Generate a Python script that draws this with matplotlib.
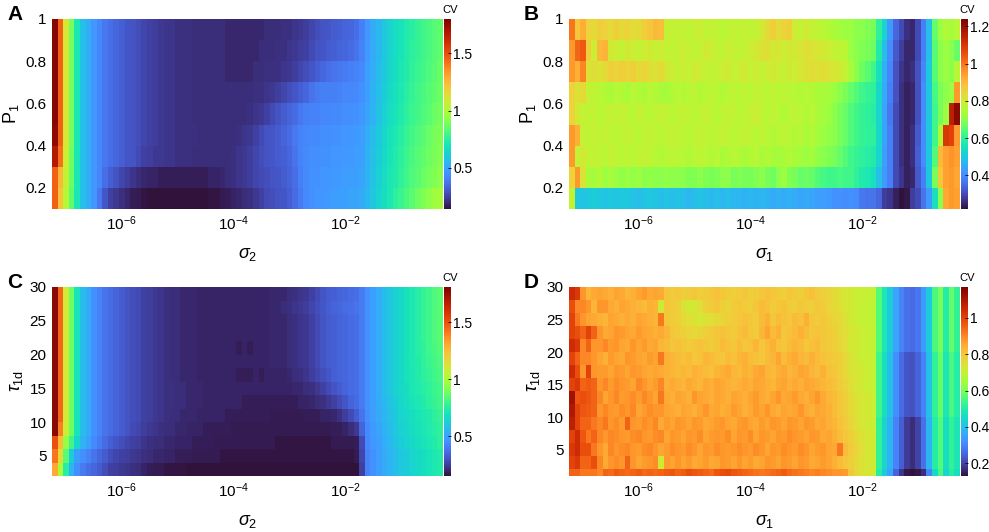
import matplotlib
matplotlib.use("Agg")
import matplotlib.pyplot as plt
import numpy as np

plt.rcParams['font.family'] = ['Liberation Sans', 'DejaVu Sans']
plt.rcParams['mathtext.fontset'] = 'custom'
plt.rcParams['mathtext.rm'] = 'Liberation Sans'
plt.rcParams['mathtext.it'] = 'Liberation Sans:italic'
plt.rcParams['axes.unicode_minus'] = False

# sigma grid: 70 log-spaced cells, 0.1 decade each
sigma_edges = np.logspace(-7.25, -0.25, 71)
# P1 rows 0.1 .. 1.0, tau_1d rows
p1_edges = np.linspace(0.1, 1.0, 10)
tau_edges_c = np.arange(2, 31, 2)
tau_edges_d = np.concatenate([[1], np.arange(2, 31, 2)])

# CV values x100, rows from bottom to top
# panel A: CV vs sigma_2 and P1
cv_a = np.array([
    [145,122,102,85,70,57,52,46,38,30, 25,23,21,19,17,16,15,14,14,14, 14,14,14,14,14,14,14,14,15,15, 16,17,18,19,20,21,23,25,27,28, 29,30,32,35,39,43,45,46,46,47, 48,49,49,50,50,51,55,59,63,67, 71,75,78,81,84,87,90,93,96,98],
    [145,125,105,86,70,57,52,46,42,36, 32,29,26,24,22,20,19,18,18,17, 17,17,17,17,17,17,17,17,18,18, 19,20,21,22,23,24,26,27,28,29, 30,31,33,36,40,43,45,45,46,46, 47,47,48,48,49,50,54,58,62,66, 70,73,76,79,82,84,86,88,90,92],
    [168,142,108,87,70,57,52,46,42,38, 36,34,32,30,29,27,25,24,23,23, 22,22,21,21,21,20,20,20,20,20, 20,20,21,22,23,24,26,28,29,30, 31,32,34,37,41,43,44,44,45,45, 46,46,47,47,48,49,53,57,61,65, 69,72,75,78,81,83,85,87,89,91],
    [176,145,110,88,70,57,52,46,42,38, 36,34,32,30,29,28,26,25,24,23, 22,22,21,21,21,21,20,20,20,20, 20,20,20,21,22,23,25,27,29,30, 31,33,35,38,41,42,43,43,44,44, 45,45,46,46,47,48,52,56,60,64, 68,71,74,77,80,82,84,86,88,90],
    [178,145,110,88,70,57,52,46,42,38, 36,34,32,30,29,28,26,25,24,23, 22,22,21,21,21,20,20,20,20,20, 20,20,20,20,20,21,22,23,25,27, 29,31,33,35,38,40,41,41,42,42, 43,43,44,44,45,46,50,54,58,62, 66,69,72,75,78,80,82,84,86,88],
    [178,145,110,88,70,57,52,46,42,38, 36,34,32,30,29,28,26,25,24,23, 22,22,21,21,21,20,20,20,20,20, 20,20,20,20,20,20,21,21,22,23, 24,26,28,30,32,34,37,39,40,40, 40,41,42,42,43,45,49,53,57,61, 65,68,71,74,77,79,81,83,85,87],
    [178,145,110,88,70,57,52,46,42,38, 36,34,32,30,29,28,26,25,24,23, 22,22,21,21,21,20,20,20,20,20, 20,19,19,19,19,19,20,20,21,21, 21,22,23,24,26,28,30,32,34,36, 37,38,39,40,41,43,48,52,56,60, 64,67,70,73,76,78,80,82,84,86],
    [178,145,110,88,70,57,52,46,42,38, 36,34,32,30,29,28,26,25,24,23, 22,22,21,21,21,20,20,20,20,20, 20,19,19,19,19,19,19,20,20,20, 21,21,22,23,24,25,27,29,30,31, 32,33,34,35,37,41,47,51,55,59, 63,66,69,72,75,77,79,81,83,85],
    [178,145,110,88,70,57,52,46,42,38, 36,34,32,30,29,28,26,25,24,23, 22,22,21,21,21,20,20,20,20,20, 20,19,19,19,19,19,19,19,20,20, 20,21,21,22,23,24,26,28,29,30, 31,32,33,34,36,40,46,51,55,59, 63,66,69,72,74,77,79,81,83,85],
]) / 100

# panel B: CV vs sigma_1 and P1
cv_b = np.array([
    [78,50,49,50,51,50,49,50,49,50, 50,49,48,49,50,49,48,49,48,49, 48,47,48,49,48,47,48,47,48,47, 47,46,47,46,47,46,45,46,45,46, 45,44,45,44,43,43,42,41,41,40, 41,40,37,36,36,34,28,27,24,22, 23,28,30,36,42,55,70,93,95,94],
    [85,95,82,74,73,75,72,73,72,71, 72,71,72,70,71,70,70,71,70,70, 70,69,69,70,69,68,69,70,70,68, 69,68,68,69,70,68,67,70,72,69, 68,66,67,66,64,63,62,62,63,62, 62,60,58,57,55,48,42,38,30,27, 24,25,32,38,50,68,88,94,95,93],
    [95,78,80,77,78,77,76,78,77,76, 77,76,77,78,77,76,75,76,77,76, 76,75,76,77,76,75,76,74,75,76, 75,74,75,76,74,75,74,73,74,75, 74,73,72,73,71,70,69,68,66,64, 62,61,60,59,58,52,43,38,30,26, 24,26,33,40,50,64,90,94,96,94],
    [95,92,78,77,78,77,78,77,76,77, 78,77,76,77,78,77,76,77,78,77, 77,76,77,78,77,76,77,78,77,76, 77,78,77,76,77,76,75,76,77,76, 75,76,74,75,73,72,71,70,68,66, 64,62,61,60,60,53,44,38,30,26, 24,26,32,40,50,62,75,110,108,95],
    [85,80,78,77,78,76,77,78,77,78, 77,76,78,77,76,77,78,77,76,77, 78,77,76,77,78,77,76,77,78,77, 76,77,78,79,77,76,77,76,75,76, 77,76,75,76,74,73,72,70,68,66, 64,62,61,60,59,52,44,37,30,26, 24,25,31,40,50,62,68,72,115,122],
    [85,82,84,78,77,76,75,74,76,75, 74,76,75,74,76,75,74,73,75,76, 75,76,77,75,76,77,76,75,76,77, 76,77,76,78,77,76,77,76,77,76, 76,75,76,75,74,74,73,72,70,68, 66,64,62,61,60,53,45,38,31,26, 24,25,31,40,50,63,68,70,72,95],
    [95,92,98,82,83,82,84,86,85,86, 85,86,84,85,83,82,84,80,79,78, 79,78,80,79,78,77,78,79,80,78, 79,80,78,79,78,79,80,79,78,80, 79,81,82,83,82,83,82,81,80,78, 74,70,67,65,62,55,46,39,31,27, 25,26,31,39,50,65,70,72,70,76],
    [95,102,104,86,79,90,91,80,79,78, 80,79,78,79,80,78,79,78,77,78, 79,78,77,78,80,79,78,77,79,78, 77,78,79,80,82,83,80,81,79,80, 80,81,83,82,81,80,79,78,77,76, 72,70,69,68,67,58,48,40,32,28, 25,25,30,38,48,65,70,72,70,66],
    [100,88,92,85,84,86,85,84,86,84, 85,83,84,86,88,90,89,78,78,78, 78,77,78,79,77,78,77,76,77,78, 77,78,77,78,80,84,86,83,85,86, 79,78,80,78,77,76,75,74,73,72, 72,70,70,69,68,60,52,42,34,30, 26,25,30,38,48,66,72,75,73,76],
]) / 100

# panel C: CV vs sigma_2 and tau_1d
cv_c = np.array([
    [130,100,75,55,45,40,37,35,32,29, 26,25,24,23,22,21,19,18,17,17, 16,16,16,16,15,15,15,15,15,15, 15,15,15,15,15,15,15,15,15,15, 15,15,15,15,15,15,15,15,15,15, 15,15,15,15,15,26,42,46,49,52, 55,57,60,62,64,66,68,70,72,74],
    [142,115,85,62,50,45,42,38,35,32, 29,27,26,25,24,23,22,21,20,20, 19,19,18,18,18,17,17,17,17,17, 16,16,16,16,16,16,16,16,16,16, 16,16,16,16,16,16,16,16,16,16, 16,16,16,16,17,27,42,46,49,52, 55,57,60,62,64,66,68,70,72,74],
    [150,125,95,80,65,55,50,44,40,36, 33,31,29,27,26,25,23,22,21,21, 20,20,19,19,19,18,18,18,18,17, 17,17,17,17,17,17,17,17,17,17, 16,16,16,16,16,16,16,16,16,16, 17,17,17,17,18,28,43,47,50,53, 56,59,62,64,66,68,70,72,74,76],
    [178,140,108,88,70,57,52,46,42,38, 36,34,32,30,28,27,25,24,23,22, 21,21,20,20,19,19,19,18,18,18, 18,18,17,17,17,17,17,17,17,17, 17,17,17,17,17,17,17,17,17,17, 18,18,19,21,24,34,44,48,51,54, 57,60,63,65,67,69,71,73,75,77],
    [178,145,110,88,70,57,52,46,42,38, 36,34,32,30,29,28,26,25,24,23, 22,21,21,20,20,20,19,19,19,19, 19,18,18,18,18,18,18,18,18,17, 17,17,17,17,17,18,18,18,19,19, 20,22,25,28,32,38,45,49,52,55, 58,61,64,66,68,70,72,74,76,78],
    [178,145,110,88,70,57,52,46,42,38, 36,34,32,30,29,28,26,25,24,23, 22,22,21,21,20,20,20,19,19,19, 19,19,19,19,18,18,18,18,18,18, 18,18,18,18,19,19,20,21,22,24, 26,28,31,34,36,40,46,50,53,56, 59,62,65,67,70,72,74,76,78,80],
    [178,145,110,88,70,57,52,46,42,38, 36,34,32,30,29,28,26,25,24,23, 22,22,21,21,20,20,20,19,19,19, 19,19,19,19,19,19,19,19,19,19, 19,19,19,20,20,21,22,24,26,28, 30,32,34,36,37,40,46,50,53,57, 60,63,66,68,71,73,75,77,79,81],
    [178,145,110,88,70,57,52,46,42,38, 36,34,32,30,29,28,26,25,24,23, 22,21,21,20,20,20,19,19,19,19, 19,19,19,18,18,18,19,18,19,19, 19,19,20,21,22,23,25,27,29,31, 33,34,35,36,37,40,46,50,53,57, 60,63,66,69,71,74,76,78,80,82],
    [178,145,110,88,70,57,52,46,42,38, 36,34,32,30,29,28,26,25,24,23, 22,21,21,20,20,20,19,19,19,19, 19,19,19,19,19,19,19,19,19,20, 20,20,21,22,23,24,26,28,30,32, 33,34,35,36,37,40,46,50,53,57, 60,63,66,69,72,74,77,79,81,83],
    [178,145,110,88,70,57,52,46,42,38, 36,34,32,30,29,28,26,25,24,23, 22,21,21,20,20,20,19,19,19,19, 19,19,19,18,19,18,19,19,19,20, 20,20,21,22,23,24,26,28,30,32, 33,34,35,36,37,40,46,50,53,57, 60,63,66,69,72,75,77,80,82,84],
    [178,145,110,88,70,57,52,46,42,38, 36,34,32,30,29,28,26,25,24,23, 22,21,21,20,20,20,19,19,19,19, 19,19,19,19,19,19,19,19,19,20, 20,20,21,22,23,24,26,28,30,32, 33,34,35,36,37,40,46,50,53,57, 60,63,66,69,72,75,78,80,83,85],
    [178,145,110,88,70,57,52,46,42,38, 36,34,32,30,29,28,26,25,24,23, 22,21,21,20,20,20,19,19,19,19, 19,19,19,19,19,19,19,19,19,20, 20,20,21,22,23,24,26,28,30,32, 33,34,35,36,37,40,46,50,53,57, 60,63,66,69,72,75,78,80,83,85],
    [178,145,110,88,70,57,52,46,42,38, 36,34,32,30,29,28,26,25,24,23, 22,21,21,20,20,20,19,19,19,19, 19,19,19,19,19,19,19,19,19,20, 20,21,22,23,24,25,27,29,31,33, 34,35,36,37,38,40,46,50,53,57, 60,63,66,69,72,75,78,80,83,85],
    [178,145,110,88,70,57,52,46,42,38, 36,34,32,30,29,28,26,25,24,23, 22,21,21,20,20,20,19,19,19,19, 19,19,19,19,19,19,19,19,19,20, 20,20,21,22,23,24,26,28,30,32, 33,34,35,36,37,40,46,50,53,57, 60,63,66,69,72,75,78,80,83,85],
]) / 100

# panel D: CV vs sigma_1 and tau_1d
cv_d = np.array([
    [95,95,92,92,92,90,95,94,96,95, 94,95,96,94,95,94,95,96,97,95, 96,98,97,96,95,94,97,98,99,97, 96,95,94,93,92,93,94,95,96,94, 93,92,91,90,91,90,89,88,88,87, 80,76,74,73,72,50,42,35,25,18, 14,13,14,17,30,45,55,44,50,46],
    [100,102,95,95,98,90,85,88,89,88, 95,88,86,87,88,89,72,87,86,88, 86,87,85,86,87,85,86,88,87,86, 88,86,87,85,86,88,87,86,88,87, 86,88,87,85,86,87,86,84,82,80, 78,76,74,73,72,52,44,38,30,24, 19,17,20,27,38,50,56,46,52,48],
    [102,105,98,98,92,88,85,90,88,89, 90,88,87,89,90,88,86,87,89,88, 87,89,88,86,88,87,89,88,87,88, 89,88,87,89,88,86,88,87,89,88, 87,89,88,86,87,88,86,85,92,82, 79,77,75,73,72,52,44,38,30,24, 19,17,20,27,38,50,56,46,52,48],
    [100,105,97,92,95,90,88,90,89,88, 87,89,90,88,87,89,90,86,88,87, 86,88,87,89,86,87,88,87,89,86, 88,87,89,86,88,87,86,88,87,89, 88,87,86,88,87,85,86,84,82,80, 78,76,74,73,72,52,44,38,30,24, 19,17,20,27,38,50,56,46,52,48],
    [108,100,95,95,92,90,92,88,89,87, 95,88,87,89,88,90,85,87,86,88, 87,86,88,87,85,86,87,88,86,85, 87,88,86,85,87,86,88,87,86,88, 87,86,88,87,85,86,84,83,81,79, 77,75,73,72,71,52,44,38,30,24, 19,17,20,27,38,50,56,46,52,48],
    [110,100,97,96,95,88,90,88,87,89, 88,90,86,87,89,88,88,86,85,84, 86,85,84,86,88,85,86,84,85,87, 86,84,85,87,86,88,85,84,86,85, 86,88,85,84,86,85,84,82,80,78, 76,74,73,72,71,54,46,40,32,26, 23,22,25,30,40,52,58,48,55,50],
    [112,97,98,97,95,90,86,88,90,87, 88,89,87,90,88,86,92,85,84,86, 85,84,88,86,85,84,86,85,84,86, 85,84,86,87,85,84,86,88,85,86, 87,85,84,86,88,85,83,82,80,78, 76,74,73,72,71,54,46,40,32,26, 23,22,25,30,40,52,58,48,55,50],
    [100,102,95,96,95,88,90,87,89,88, 87,86,90,88,86,87,90,84,85,84, 83,85,84,83,85,84,86,85,84,83, 84,85,84,86,85,84,83,85,86,84, 85,84,86,85,84,83,82,81,79,77, 75,73,72,71,70,54,46,40,32,26, 23,22,25,30,40,52,58,48,55,50],
    [105,98,88,100,88,87,87,86,88,87, 86,88,87,86,85,86,85,84,83,82, 83,82,84,83,82,81,83,84,85,83, 82,84,83,85,86,83,82,84,85,83, 84,86,85,83,82,84,81,80,78,76, 74,73,72,71,70,54,46,40,32,26, 23,22,25,30,40,52,58,48,55,50],
    [100,95,90,90,88,86,84,87,86,85, 88,87,86,85,87,86,92,84,83,82, 81,82,80,81,83,82,81,80,82,81, 83,84,82,81,80,82,83,86,82,84, 85,83,82,84,82,81,80,79,78,76, 74,72,71,71,70,54,46,40,32,26, 23,22,25,30,40,52,58,48,55,50],
    [105,102,90,95,88,88,90,87,88,86, 85,88,86,87,85,86,83,82,80,81, 80,79,80,81,80,79,80,82,81,80, 82,80,81,83,80,82,84,81,80,82, 83,82,80,81,82,80,79,78,77,75, 73,72,71,70,70,56,48,42,35,30, 27,26,28,34,42,55,60,50,58,52],
    [100,98,95,100,95,88,85,86,88,87, 86,85,87,86,85,84,85,83,80,79, 78,77,76,77,78,79,80,81,80,79, 81,82,80,79,83,86,82,84,80,81, 82,84,82,80,81,80,79,78,76,75, 73,72,71,70,70,56,48,42,35,30, 27,26,28,34,42,55,60,50,58,52],
    [100,92,88,86,85,84,83,86,85,84, 85,84,86,85,84,83,92,80,79,78, 76,75,74,73,74,75,76,77,78,79, 80,81,80,79,82,84,80,82,81,80, 82,81,84,80,79,80,78,77,76,74, 72,71,70,70,69,56,48,42,35,30, 27,26,28,34,42,55,60,50,58,52],
    [98,90,90,88,83,88,88,85,84,86, 85,84,83,82,84,83,72,80,79,78, 74,72,73,75,78,79,80,78,77,79, 80,79,78,80,82,81,79,80,81,79, 78,80,79,78,80,79,77,76,75,73, 72,71,70,70,69,56,48,42,35,30, 27,26,28,34,42,55,60,50,58,52],
    [105,102,88,83,85,86,85,84,86,85, 83,84,86,87,85,86,85,80,79,80, 78,79,80,78,79,80,81,80,79,78, 79,80,78,79,80,81,80,79,78,80, 79,78,80,81,79,78,77,76,74,73, 72,71,71,70,70,56,48,42,35,30, 27,26,28,34,42,55,60,50,58,52],
]) / 100

p1_ticks = [0.2, 0.4, 0.6, 0.8, 1.0]
p1_ticklabels = ['0.2', '0.4', '0.6', '0.8', '1']
tau_ticks = [5, 10, 15, 20, 25, 30]
sigma_ticks = [1e-6, 1e-4, 1e-2]

panels = [
    # letter, data, y edges, vmin, vmax, cbar ticks, xlabel, ylabel, yticks, yticklabels
    ('A', cv_a, p1_edges, 0.14, 1.80, [0.5, 1, 1.5], r'$\sigma_2$', r'P$_1$', p1_ticks, p1_ticklabels),
    ('B', cv_b, p1_edges, 0.22, 1.24, [0.4, 0.6, 0.8, 1, 1.2], r'$\sigma_1$', r'P$_1$', p1_ticks, p1_ticklabels),
    ('C', cv_c, tau_edges_c, 0.15, 1.81, [0.5, 1, 1.5], r'$\sigma_2$', r'$\tau_{\mathrm{1d}}$', tau_ticks, [str(t) for t in tau_ticks]),
    ('D', cv_d, tau_edges_d, 0.13, 1.17, [0.2, 0.4, 0.6, 0.8, 1], r'$\sigma_1$', r'$\tau_{\mathrm{1d}}$', tau_ticks, [str(t) for t in tau_ticks]),
]

W, H = 989, 532
fig = plt.figure(figsize=(W / 100, H / 100), dpi=100)

# axes boxes in pixels: left, top, right, bottom
boxes = [(52, 19, 443, 209), (569, 19, 960, 209), (52, 287, 443, 476), (569, 287, 960, 476)]

for (letter, z, yedges, vmin, vmax, cticks, xl, yl, yt, ytl), (l, t, r, b) in zip(panels, boxes):
    ax = fig.add_axes([l / W, 1 - b / H, (r - l) / W, (b - t) / H])
    mesh = ax.pcolormesh(sigma_edges, yedges, z, cmap='turbo', vmin=vmin, vmax=vmax, shading='flat')
    ax.set_xscale('log')
    ax.set_xlim(sigma_edges[0], sigma_edges[-1])
    ax.set_ylim(yedges[0], yedges[-1])
    ax.set_xticks(sigma_ticks)
    ax.xaxis.set_minor_locator(matplotlib.ticker.NullLocator())
    ax.set_yticks(yt)
    ax.set_yticklabels(ytl)
    ax.tick_params(length=0, labelsize=11, pad=4)
    for s in ax.spines.values():
        s.set_visible(False)
    ax.set_xlabel(xl, fontsize=13, labelpad=9)
    ax.set_ylabel(yl, fontsize=13, labelpad=3)
    fig.text((l - 45) / W, 1 - (t - 14) / H, letter, fontsize=15, fontweight='bold', va='top', ha='left')

    cax = fig.add_axes([(r + 1) / W, 1 - b / H, 7 / W, (b - t) / H])
    cb = fig.colorbar(mesh, cax=cax, ticks=cticks)
    cb.ax.set_yticklabels(['%g' % c for c in cticks])
    cb.outline.set_visible(False)
    cb.ax.tick_params(labelsize=10, length=2, direction='in', width=0.6, pad=1.5)
    cb.ax.text(0.9, 1.02, 'CV', transform=cb.ax.transAxes, ha='center', va='bottom', fontsize=8)

fig.savefig('out.png', dpi=100)
